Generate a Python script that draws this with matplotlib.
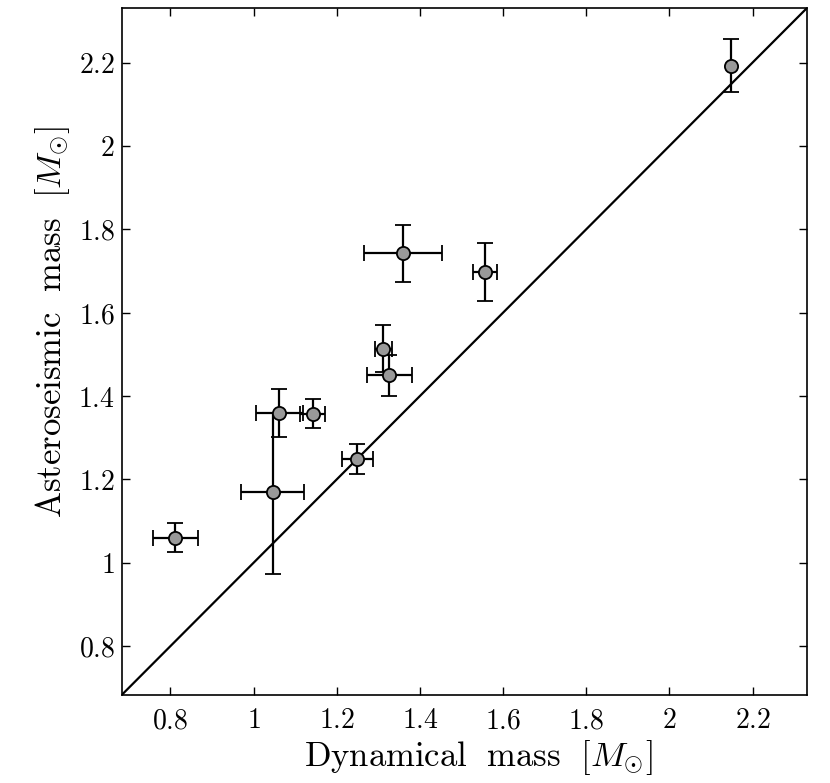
import matplotlib
matplotlib.use('Agg')
import matplotlib.pyplot as plt
import numpy as np

# dynamical vs asteroseismic masses
dyn_mass = [0.812, 1.046, 1.062, 1.142, 1.250, 1.326, 1.312, 1.360, 1.556, 2.147]
dyn_err = [0.054, 0.076, 0.057, 0.031, 0.037, 0.054, 0.020, 0.094, 0.029, 0.0]
ast_mass = [1.060, 1.170, 1.359, 1.358, 1.250, 1.450, 1.514, 1.742, 1.698, 2.192]
ast_err_lo = [0.035, 0.197, 0.058, 0.034, 0.036, 0.049, 0.057, 0.068, 0.070, 0.062]
ast_err_hi = [0.035, 0.190, 0.058, 0.034, 0.036, 0.049, 0.057, 0.068, 0.070, 0.064]

xticks = [0.8, 1.0, 1.2, 1.4, 1.6, 1.8, 2.0, 2.2]
ticklabels = ['$0.8$', '$1$', '$1.2$', '$1.4$', '$1.6$', '$1.8$', '$2$', '$2.2$']
lim = (0.683, 2.33)

plt.rcParams['mathtext.fontset'] = 'cm'
plt.rcParams['font.family'] = ['DejaVu Serif']

fig = plt.figure(figsize=(8.3, 7.83), dpi=100)
ax = fig.add_axes([0.1466, 0.1124, 0.8253, 0.877])

ax.plot(lim, lim, color='black', lw=1.6, zorder=1)
ax.errorbar(dyn_mass, ast_mass, xerr=dyn_err, yerr=[ast_err_lo, ast_err_hi],
            fmt='o', color='black', ecolor='black', elinewidth=1.6, capsize=5.5,
            capthick=1.6, markersize=9.5, markerfacecolor='#999999',
            markeredgecolor='black', markeredgewidth=1.3, zorder=2)

ax.set_xlim(lim)
ax.set_ylim(lim)
ax.set_xticks(xticks)
ax.set_xticklabels(ticklabels)
ax.set_yticks(xticks)
ax.set_yticklabels(ticklabels)
ax.tick_params(direction='in', top=True, right=True, length=6, width=1,
               labelsize=20)
ax.tick_params(axis='x', pad=9)
ax.tick_params(axis='y', pad=5)
for s in ax.spines.values():
    s.set_linewidth(1.2)

ax.set_xlabel(r'$\mathrm{Dynamical\ \ mass}\ \ [M_{\odot}]$', fontsize=25)
ax.set_ylabel(r'$\mathrm{Asteroseismic\ \ mass}\ \ [M_{\odot}]$', fontsize=25)
ax.xaxis.set_label_coords(0.521, -0.062)
ax.yaxis.set_label_coords(-0.072, 0.543)

fig.savefig('out.png', dpi=100)
